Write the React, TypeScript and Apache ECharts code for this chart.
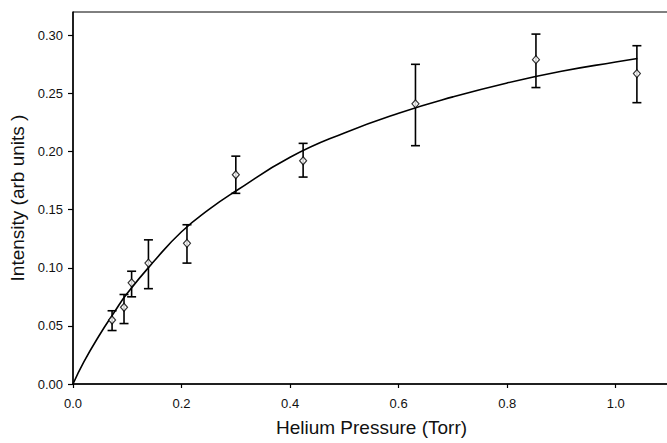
import React, { useEffect, useRef } from "react";
import * as echarts from "echarts";

// Measured points (Helium pressure in Torr, intensity in arb units)
const pressure = [0.072, 0.094, 0.108, 0.139, 0.21, 0.3, 0.424, 0.631, 0.853, 1.039];
const intensity = [0.055, 0.066, 0.087, 0.104, 0.121, 0.180, 0.192, 0.241, 0.279, 0.267];
const errHigh = [0.063, 0.077, 0.097, 0.124, 0.137, 0.196, 0.207, 0.275, 0.301, 0.291];
const errLow = [0.046, 0.052, 0.075, 0.082, 0.104, 0.164, 0.178, 0.205, 0.255, 0.242];

// Fitted curve
const curveX = [0, 0.02, 0.05, 0.075, 0.1, 0.15, 0.2, 0.25, 0.3, 0.4, 0.5, 0.6, 0.7, 0.8, 0.9, 1.0, 1.04];
const curveY = [0, 0.019, 0.043, 0.061, 0.078, 0.106, 0.131, 0.15, 0.166, 0.195, 0.216, 0.233, 0.247, 0.259, 0.269, 0.277, 0.28];

const xTickLabels = ["0.0", "0.2", "0.4", "0.6", "0.8", "1.0"];
const yTickLabels = ["0.00", "0.05", "0.10", "0.15", "0.20", "0.25", "0.30"];

const FONT = "'Liberation Sans', Arial, sans-serif";

function tickLabel(labels: string[], step: number) {
  return (v: number) => {
    const r = v / step;
    const idx = Math.round(r);
    if (Math.abs(r - idx) > 1e-6) return "";
    return labels[idx] ?? "";
  };
}

export default function App() {
  const ref = useRef<HTMLDivElement>(null);

  useEffect(() => {
    if (!ref.current) return;
    const chart = echarts.init(ref.current, undefined, { renderer: "svg" });

    const errData = pressure.map((p, i) => [p, errLow[i], errHigh[i]]);

    chart.setOption({
      animation: false,
      backgroundColor: "#fff",
      grid: {
        left: 73,
        top: 12,
        bottom: 59,
        width: 597,
        show: true,
        borderColor: "#000",
        borderWidth: 1,
        outerBoundsMode: "none",
      },
      xAxis: {
        type: "value",
        min: 0,
        max: 1.1,
        interval: 0.2,
        name: "Helium Pressure (Torr)",
        nameLocation: "middle",
        nameGap: 34,
        nameTextStyle: { fontFamily: FONT, fontSize: 19, color: "#111" },
        axisLine: { show: true, lineStyle: { color: "#000", width: 1.5 } },
        axisTick: { show: true, length: 4, lineStyle: { color: "#000", width: 1.2 } },
        splitLine: { show: false },
        axisLabel: {
          margin: 13,
          fontFamily: FONT,
          fontSize: 13,
          color: "#111",
          showMaxLabel: false,
          formatter: tickLabel(xTickLabels, 0.2),
        },
      },
      yAxis: {
        type: "value",
        min: 0,
        max: 0.32,
        interval: 0.05,
        name: "Intensity (arb units )",
        nameLocation: "middle",
        nameGap: 43,
        nameTextStyle: { fontFamily: FONT, fontSize: 19, color: "#111" },
        axisLine: { show: true, lineStyle: { color: "#000", width: 1.5 } },
        axisTick: { show: true, length: 5, lineStyle: { color: "#000", width: 1.2 } },
        splitLine: { show: false },
        axisLabel: {
          margin: 10,
          fontFamily: FONT,
          fontSize: 13,
          color: "#111",
          showMaxLabel: false,
          formatter: tickLabel(yTickLabels, 0.05),
        },
      },
      series: [
        {
          type: "line",
          data: curveX.map((x, i) => [x, curveY[i]]),
          smooth: true,
          showSymbol: false,
          symbol: "none",
          lineStyle: { color: "#000", width: 1.6 },
          z: 2,
        },
        {
          type: "custom",
          data: errData,
          z: 3,
          renderItem: (params: any, api: any) => {
            const x = api.value(0);
            const lo = api.coord([x, api.value(1)]);
            const hi = api.coord([x, api.value(2)]);
            const half = 4.5;
            const style = { stroke: "#000", lineWidth: 1.6 };
            return {
              type: "group",
              children: [
                { type: "line", shape: { x1: lo[0], y1: lo[1], x2: hi[0], y2: hi[1] }, style },
                { type: "line", shape: { x1: lo[0] - half, y1: lo[1], x2: lo[0] + half, y2: lo[1] }, style },
                { type: "line", shape: { x1: hi[0] - half, y1: hi[1], x2: hi[0] + half, y2: hi[1] }, style },
              ],
            };
          },
        },
        {
          type: "scatter",
          data: pressure.map((p, i) => [p, intensity[i]]),
          symbol: "diamond",
          symbolSize: [7, 8],
          itemStyle: { color: "#fff", borderColor: "#000", borderWidth: 1.2 },
          z: 4,
        },
      ],
    });

    return () => chart.dispose();
  }, []);

  return (
    <div
      ref={ref}
      style={{ position: "fixed", left: 0, top: 0, width: 667, height: 443, overflow: "hidden" }}
    />
  );
}
